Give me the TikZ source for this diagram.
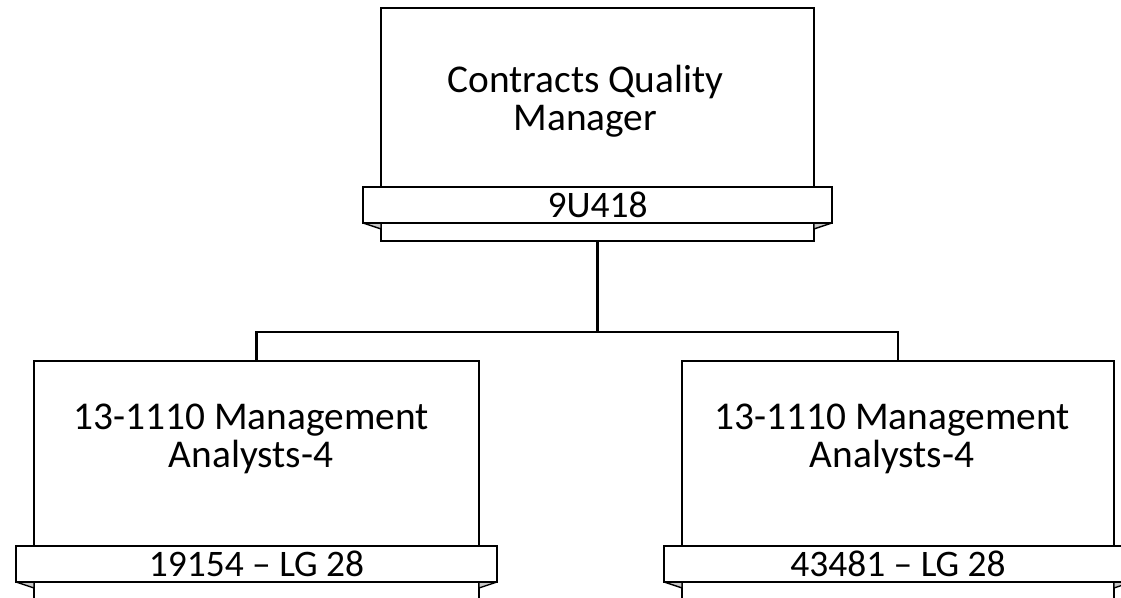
\documentclass[tikz,border=0pt]{standalone}
\usepackage{fontspec}
\setmainfont{Carlito}
\definecolor{foldgray}{RGB}{200,200,200}
\tikzset{
  post/.style={draw, line width=1.3pt, fill=white, inner sep=0pt},
  banner/.style={draw, line width=1.3pt, fill=white, inner sep=0pt,
    minimum height=0.72cm, font=\fontsize{21.3}{25}\selectfont},
  title/.style={align=center, font=\fontsize{22.4}{21.7}\selectfont},
  fold/.style={fill=foldgray, draw, line width=0.8pt, line join=round},
  link/.style={line width=1.3pt}
}

\begin{document}
\begin{tikzpicture}
  \clip (0,0) rectangle (22.42,11.96);
  % boxes
  \node[post, minimum width=8.66cm, minimum height=4.66cm] (mgr) at (11.95,9.47) {};
  \node[post, minimum width=8.90cm, minimum height=5.18cm] (ana1) at (5.13,2.15) {};
  \node[post, minimum width=8.64cm, minimum height=5.18cm] (ana2) at (17.96,2.15) {};
  % titles
  \node[title] (t0) at (11.71,9.93) {Contracts Quality\\Manager};
  \node[title] (t1) at (5.02,3.19) {13-1110 Management\\Analysts-4};
  \node[title] (t2) at (17.84,3.19) {13-1110 Management\\Analysts-4};
  % folds behind the banners
  \filldraw[fold] (7.26,7.50) -- (7.62,7.50) -- (7.62,7.38) -- cycle;
  \filldraw[fold] (16.64,7.50) -- (16.28,7.50) -- (16.28,7.38) -- cycle;
  \filldraw[fold] (0.32,0.32) -- (0.68,0.32) -- (0.68,0.20) -- cycle;
  \filldraw[fold] (9.94,0.32) -- (9.58,0.32) -- (9.58,0.20) -- cycle;
  \filldraw[fold] (13.28,0.32) -- (13.64,0.32) -- (13.64,0.20) -- cycle;
  \filldraw[fold] (22.64,0.32) -- (22.28,0.32) -- (22.28,0.20) -- cycle;
  % banners
  \node[banner, minimum width=9.38cm] (b0) at (11.95,7.86) {9U418};
  \node[banner, minimum width=9.62cm] (b1) at (5.13,0.68) {19154 – LG 28};
  \node[banner, minimum width=9.36cm] (b2) at (17.96,0.68) {43481 – LG 28};
  % reporting lines
  \coordinate (bus) at (11.95,5.32);
  \draw[link] (mgr.south) -- (bus);
  \draw[link] (bus) -| (ana1.north);
  \draw[link] (bus) -| (ana2.north);
\end{tikzpicture}
\end{document}
